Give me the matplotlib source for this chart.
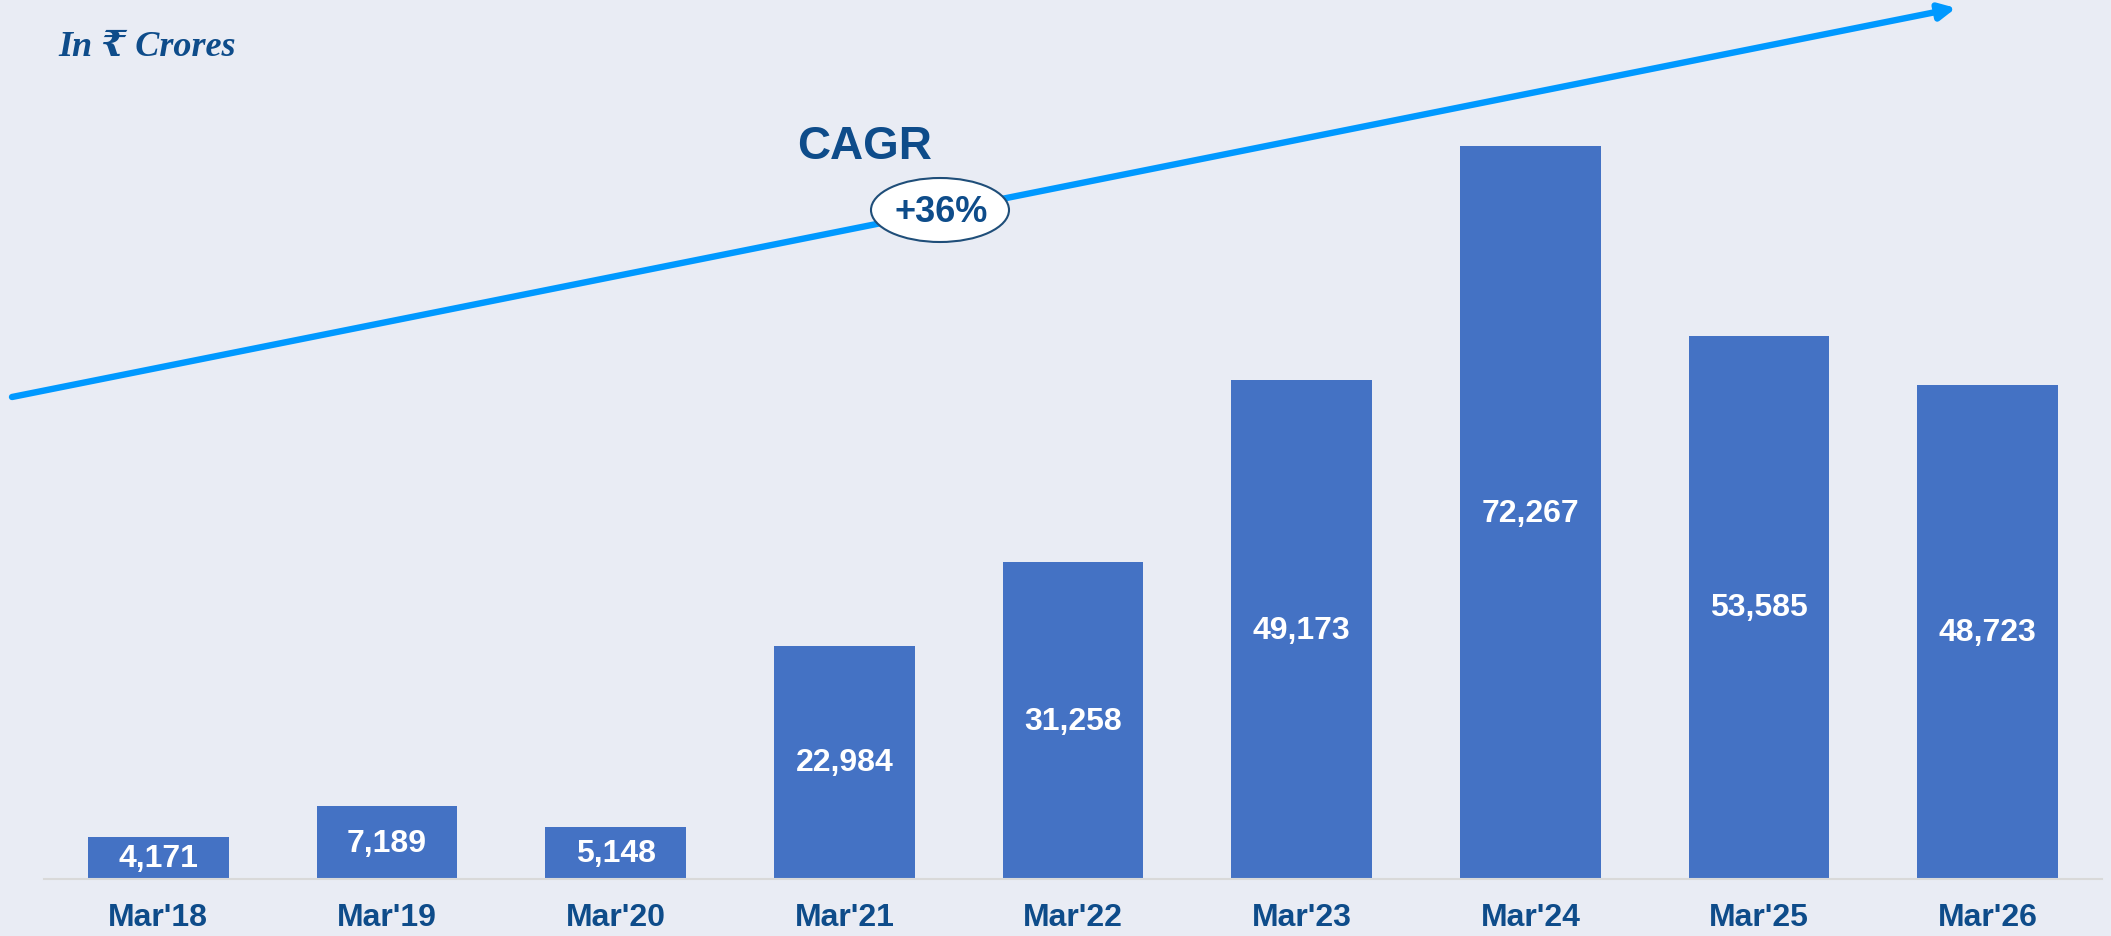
import matplotlib
matplotlib.use('Agg')
import matplotlib.pyplot as plt
from matplotlib.patches import Ellipse

# data
categories = ["Mar'18", "Mar'19", "Mar'20", "Mar'21", "Mar'22",
              "Mar'23", "Mar'24", "Mar'25", "Mar'26"]
values = [4171, 7189, 5148, 22984, 31258, 49173, 72267, 53585, 48723]
cagr_text = "+36%"

bg = '#E9ECF4'
bar_col = '#4472C4'
navy = '#0E4C8A'
arrow_col = '#0099FF'

W, H = 2111, 937
fig = plt.figure(figsize=(W / 100, H / 100), dpi=100, facecolor=bg)
ax = fig.add_axes([44 / W, 57 / H, (2102 - 44) / W, 880 / H])
ax.set_facecolor(bg)

x = list(range(len(categories)))
ax.bar(x, values, width=0.615, color=bar_col, zorder=2)
ax.set_xlim(-0.5, 8.5)
ax.set_ylim(0, 86800)

for s in ['top', 'right', 'left']:
    ax.spines[s].set_visible(False)
ax.spines['bottom'].set_color('#D9D9D9')
ax.spines['bottom'].set_linewidth(1.5)
ax.set_xticks([])
ax.set_yticks([])

for i, v in zip(x, values):
    ax.text(i, v / 2, f"{v:,}", ha='center', va='center', color='white',
            fontsize=23, fontweight='bold', family='Liberation Sans')
    ax.text(i, -38 / 880, categories[i], transform=ax.get_xaxis_transform(),
            ha='center', va='center', color=navy, fontsize=23,
            fontweight='bold', family='Liberation Sans')

# unit note
fig.text(58 / W, 1 - 47 / H, "In \u20b9 Crores", color=navy, fontsize=26,
         fontweight='bold', style='italic', va='center', ha='left',
         family=['Liberation Serif', 'DejaVu Serif', 'DejaVu Sans'])

# CAGR arrow
ov = fig.add_axes([0, 0, 1, 1], facecolor='none')
ov.set_xlim(0, W)
ov.set_ylim(H, 0)
ov.axis('off')
ov.annotate('', xy=(1956, 9), xytext=(12, 398),
            arrowprops=dict(arrowstyle='-|>', lw=4.6, color=arrow_col,
                            mutation_scale=24, shrinkA=0, shrinkB=0))
ov.add_patch(Ellipse((940, 211), 138, 64, facecolor='white',
                     edgecolor='#1F4E79', lw=1.5, zorder=5))
ov.text(941, 213, cagr_text, ha='center', va='center', color=navy,
        fontsize=26, fontweight='bold', family='Liberation Sans', zorder=6)
ov.text(865, 147, "CAGR", ha='center', va='center', color=navy,
        fontsize=33, fontweight='bold', family='Liberation Sans')

fig.savefig('out.png', dpi=100, facecolor=bg)
